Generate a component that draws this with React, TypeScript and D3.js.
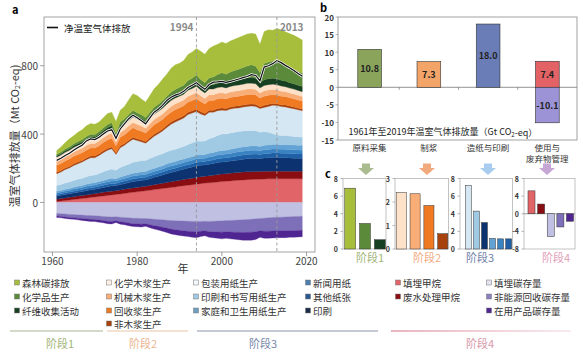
import React from "react";
import * as d3 from "d3";

// ---------------- DATA ----------------
const years = d3.range(1961, 2020);

// Panel a – stage 1 (Mt CO2-eq)
const forest = [22,30,37,46,47,54,57,62,63,60, 55,59,64,61,67,70,73,86,98,100, 92,91,97,108,115,127,129,141,144,141, 144,152,153,155,165,167,171,181,176,179, 180,182,183,185,186,187,184,188,166,187, 188,181,189,195,193,197,199,198,192];
const chemicals = [9,10,11,12,12,13,14,15,15,15, 16,17,18,19,16,19,20,21,23,22, 21,20,22,24,25,26,27,28,29,30, 31,34,36,40,38,36,40,45,50,55, 52,55,58,62,65,68,75,70,60,95, 98,100,105,100,95,90,85,82,80];
const fiber = [8,8,9,9,10,10,10,11,11,11, 12,12,13,13,12,13,14,14,15,15, 15,14,15,16,17,18,19,20,21,22, 22,23,24,25,24,23,25,26,27,28, 28,29,30,31,32,33,33,33,30,34, 35,35,35,34,33,32,31,30,30];
// stage 2
const chemPulp = [24,25,25,26,26,26,27,27,28,27, 28,28,30,30,24,29,30,31,32,31, 30,29,31,32,32,33,34,34,34,34, 34,35,36,37,34,33,34,33,33,34, 33,33,33,33,33,33,33,33,29,31, 31,31,30,30,28,28,28,28,28];
const mechPulp = [24,24,25,25,25,26,26,27,27,27, 27,28,29,29,24,28,29,31,31,31, 30,28,30,31,32,32,33,34,34,34, 34,34,35,36,34,32,33,33,33,33, 32,32,32,33,33,33,33,32,30,31, 31,30,30,29,29,28,28,28,27];
const recycledPulp = [40,41,42,43,44,45,45,46,47,46, 47,49,50,51,41,50,51,53,55,53, 51,49,52,55,55,56,57,58,59,59, 58,60,60,62,59,55,58,57,57,57, 55,56,56,56,56,57,56,55,51,54, 53,52,51,50,50,49,48,47,47];
const nonWoodPulp = [9,9,9,9,10,10,10,10,10,10, 10,11,11,11,9,11,11,11,12,11, 11,10,11,12,12,12,12,13,13,13, 13,13,13,13,13,12,12,12,12,12, 12,12,12,12,12,12,12,12,11,12, 12,11,11,11,11,11,11,10,10];
// stage 3
const packaging = [69,73,78,82,87,91,95,100,104,102, 106,112,117,118,93,115,120,129,135,122, 110,102,110,120,125,133,142,152,160,162, 166,175,175,172,160,150,155,148,145,140, 138,140,140,138,140,142,143,142,138,142, 152,165,172,170,168,165,162,158,154];
const printWriting = [34,35,37,38,40,41,42,44,45,45, 47,50,53,55,50,56,58,61,64,66, 66,64,66,68,69,70,71,72,72,72, 74,77,80,82,80,79,84,88,92,96, 94,95,95,94,93,92,90,88,84,80, 74,64,55,53,52,51,50,49,48];
const household = [9,9,10,10,11,11,12,12,13,13, 13,14,14,15,13,15,16,16,17,17, 17,17,18,18,19,19,20,20,20,21, 21,21,21,22,21,21,22,22,23,23, 23,24,24,25,25,25,26,26,25,26, 26,27,27,27,28,28,28,28,28];
const newsprint = [10,10,11,11,12,12,12,13,13,13, 14,14,15,15,14,15,15,16,16,16, 16,16,17,17,18,18,19,19,19,19, 19,20,20,21,20,20,21,21,22,22, 22,22,23,23,23,23,23,23,22,23, 23,23,23,23,23,23,23,23,23];
const otherPaper = [9,9,10,10,11,11,11,12,12,12, 13,13,14,14,13,14,15,15,16,16, 16,16,17,17,18,18,19,19,19,20, 20,20,20,21,20,20,21,21,22,23, 23,23,24,24,24,25,25,25,24,25, 25,26,26,26,26,26,26,26,26];
const printing = [18,19,20,21,22,23,24,25,26,26, 27,29,30,31,29,32,33,35,37,37, 38,37,40,43,45,48,51,54,56,58, 60,63,65,68,67,66,68,69,70,70, 70,71,72,74,75,76,77,77,75,78, 79,80,80,79,79,77,76,75,74];
// stage 4
const landfillCH4 = [5,8,11,14,17,20,23,26,29,32, 35,38,41,44,47,50,53,56,59,62, 65,68,71,75,78,81,85,88,91,95, 98,101,104,107,110,113,115,117,120,122, 124,126,128,130,132,133,134,135,136,137, 138,138,139,139,139,139,139,139,139];
const wastewaterCH4 = [14,15,15,16,16,17,17,18,19,19, 20,21,21,22,22,23,24,25,26,26, 27,27,28,29,30,31,32,33,34,35, 36,37,38,39,40,40,41,42,43,44, 44,45,45,45,46,46,46,46,45,45, 45,45,45,44,44,44,44,44,44];
const landfillStock = [-64,-66,-68,-70,-71,-73,-74,-76,-77,-78, -80,-82,-84,-85,-84,-86,-88,-90,-92,-93, -94,-94,-96,-98,-100,-102,-104,-106,-107,-108, -109,-110,-111,-112,-111,-110,-111,-110,-109,-108, -106,-105,-104,-103,-102,-100,-98,-96,-94,-92, -90,-88,-87,-86,-85,-84,-83,-82,-81];
const nonEnergyStock = [-16,-16,-17,-18,-18,-19,-20,-21,-22,-22, -23,-24,-26,-27,-23,-27,-28,-30,-32,-32, -33,-31,-34,-38,-40,-43,-46,-50,-53,-55, -57,-58,-59,-60,-58,-56,-60,-62,-64,-66, -66,-68,-70,-72,-74,-75,-76,-76,-72,-76, -78,-79,-80,-80,-81,-81,-82,-82,-82];
const inUseStock = [-8,-8,-9,-9,-10,-10,-11,-11,-12,-12, -13,-13,-14,-14,-11,-14,-15,-16,-17,-17, -17,-15,-18,-20,-22,-24,-26,-28,-29,-30, -31,-32,-33,-34,-31,-29,-33,-35,-37,-39, -38,-40,-42,-43,-45,-46,-47,-45,-38,-42, -42,-41,-40,-40,-40,-39,-39,-38,-38];
const netEmissions = [246,258,275,288,305,322,335,360,372,368, 382,400,418,425,375,430,460,490,510,495, 478,460,495,528,545,568,597,615,628,636, 650,672,686,700,680,662,690,704,705,708, 702,708,715,722,730,737,748,743,712,792, 800,812,830,818,802,788,772,755,738];

const aYTicks = [0, 400, 800];
const aXTicks = [1960, 1980, 2000, 2020];
const markerYears = [1994, 2013];

// Panel b
const bCategories = ["原料采集", "制浆", "造纸与印刷", "使用与废弃物管理"];
const bCategoryLines = [["原料采集"], ["制浆"], ["造纸与印刷"], ["使用与", "废弃物管理"]];
const bPositive = [10.8, 7.3, 18.0, 7.4];
const bNegative = [0, 0, 0, -10.1];
const bTicks = [20, 15, 10, 5, 0, -5, -10, -15];

// Panel c
const c1Values = [6.9, 2.9, 1.05];
const c2Values = [2.4, 2.35, 1.85, 0.65];
const c3Values = [7.2, 4.3, 3.0, 1.2, 1.15, 1.15];
const c4Values = [5.2, 2.2, -5.2, -3.0, -1.7];
const c1Ticks = [0, 2, 4, 6, 8];
const c2Ticks = [0, 1, 2, 3];
const c3Ticks = [0, 2, 4, 6, 8];
const c4Ticks = [-8, -4, 0, 4, 8];
const stageNames = ["阶段1", "阶段2", "阶段3", "阶段4"];

// Legend
const legendCol1 = ["森林碳排放", "化学品生产", "纤维收集活动"];
const legendCol2 = ["化学木浆生产", "机械木浆生产", "回收浆生产", "非木浆生产"];
const legendCol3 = ["包装用纸生产", "印刷和书写用纸生产", "家庭和卫生用纸生产"];
const legendCol4 = ["新闻用纸", "其他纸张", "印刷"];
const legendCol5 = ["填埋甲烷", "废水处理甲烷"];
const legendCol6 = ["填埋碳存量", "非能源回收碳存量", "在用产品碳存量"];

// ---------------- STYLE ----------------
const FONT = '"Noto Sans CJK SC", "Noto Sans", sans-serif';
const C = {
  forest: "#a6be3c", chemicals: "#5b8a3a", fiber: "#173f22",
  chemPulp: "#fde1c8", mechPulp: "#f9ae78", recycled: "#f07a22", nonWood: "#a8420c",
  packaging: "#d5e7f3", printWriting: "#a0c9e3", household: "#62a2d4", newsprint: "#3a83c3", otherPaper: "#1f5fa6", printing: "#0c3370",
  landfillCH4: "#e06468", wastewater: "#8a0d12",
  landfillStock: "#bfc0e2", nonEnergy: "#7e70b8", inUse: "#4f2591",
};

const layers = [
  { key: "landfillCH4", values: landfillCH4, color: C.landfillCH4 },
  { key: "wastewaterCH4", values: wastewaterCH4, color: C.wastewater },
  { key: "printing", values: printing, color: C.printing },
  { key: "otherPaper", values: otherPaper, color: C.otherPaper },
  { key: "newsprint", values: newsprint, color: C.newsprint },
  { key: "household", values: household, color: C.household },
  { key: "printWriting", values: printWriting, color: C.printWriting },
  { key: "packaging", values: packaging, color: C.packaging },
  { key: "nonWood", values: nonWoodPulp, color: C.nonWood },
  { key: "recycled", values: recycledPulp, color: C.recycled },
  { key: "mechanical", values: mechPulp, color: C.mechPulp },
  { key: "chemPulp", values: chemPulp, color: C.chemPulp },
  { key: "fiber", values: fiber, color: C.fiber },
  { key: "chemicals", values: chemicals, color: C.chemicals },
  { key: "forest", values: forest, color: C.forest },
  { key: "landfillStock", values: landfillStock, color: C.landfillStock },
  { key: "nonEnergyStock", values: nonEnergyStock, color: C.nonEnergy },
  { key: "inUseStock", values: inUseStock, color: C.inUse },
];

function SubBars({ x0, x1, bx0, bx1, yTop, yBot, domain, ticks, values, colors }) {
  const y = d3.scaleLinear().domain(domain).range([yBot, yTop]);
  const xb = d3.scaleBand().domain(values.map((_, i) => String(i))).range([bx0, bx1]).paddingInner(0.27).paddingOuter(0.05);
  return (
    <g>
      <rect x={x0} y={yTop} width={x1 - x0} height={yBot - yTop} fill="none" stroke="#b5b5b5" strokeWidth={0.8} />
      {ticks.map((t) => (
        <g key={t}>
          <line x1={x0 - 2.5} x2={x0} y1={y(t)} y2={y(t)} stroke="#888" strokeWidth={0.6} />
          <text x={x0 - 5} y={y(t)} fontSize={7} fontWeight={700} fill="#333" textAnchor="end" dominantBaseline="central" fontFamily={FONT}>{t}</text>
        </g>
      ))}
      {domain[0] < 0 && <line x1={x0} x2={x1} y1={y(0)} y2={y(0)} stroke="#777" strokeWidth={0.7} />}
      {values.map((v, i) => (
        <rect key={i} x={xb(String(i))} width={xb.bandwidth()} y={Math.min(y(v), y(0))} height={Math.abs(y(v) - y(0))} fill={colors[i]} stroke="#333" strokeWidth={0.5} />
      ))}
    </g>
  );
}

function Arrow({ cx, color }) {
  const p = `M${cx - 4},163.5 L${cx + 4},163.5 L${cx + 4},168 L${cx + 8},168 L${cx},175 L${cx - 8},168 L${cx - 4},168 Z`;
  return <path d={p} fill={color} />;
}

function LegendCol({ x, items, colors }) {
  const rowsY = [282.5, 296.5, 310.5, 323.5];
  return (
    <g>
      {items.map((t, i) => (
        <g key={t}>
          <rect x={x} y={rowsY[i] - 2.5} width={5} height={5} fill={colors[i]} stroke="#777" strokeWidth={0.5} />
          <text x={x + 7.5} y={rowsY[i]} fontSize={9.5} fill="#333" dominantBaseline="central" fontFamily={FONT}>{t}</text>
        </g>
      ))}
    </g>
  );
}

export default function App() {
  const W = 583, H = 357;
  // ---- Panel a scales
  const xA = d3.scaleLinear().domain([1958, 2022]).range([44, 315]);
  const yA = d3.scaleLinear().domain([-290, 1085]).range([252, 17]);
  const rows = years.map((yr, i) => {
    const r: any = { year: yr };
    layers.forEach((l) => (r[l.key] = l.values[i]));
    return r;
  });
  const series = d3.stack().keys(layers.map((l) => l.key)).offset(d3.stackOffsetDiverging)(rows);
  const area = d3.area<any>().x((d) => xA(d.data.year)).y0((d) => yA(d[0])).y1((d) => yA(d[1]));
  const netLine = d3.line<number>().x((_, i) => xA(years[i])).y((d) => yA(d));

  // ---- Panel b scales
  const xB = d3.scaleBand().domain(bCategories).range([340, 577]);
  const yB = d3.scaleLinear().domain([-15, 20]).range([140, 17]);
  const bw = xB.bandwidth() * 0.4;
  const bColors = ["#8ba45c", "#f3a468", "#6a7db6", "#e36265"];

  return (
    <svg width={W} height={H} style={{ position: "absolute", left: 0, top: 0, background: "#fff" }} fontFamily={FONT}>
      <defs>
        <linearGradient id="st4" x1="0" x2="1" y1="0" y2="0">
          <stop offset="0" stopColor="#d98595" />
          <stop offset="1" stopColor="#f4dde3" />
        </linearGradient>
      </defs>
      {/* ---------- Panel a ---------- */}
      <text x={12} y={9} fontSize={11} fontWeight={700} dominantBaseline="central">a</text>
      {series.map((s, i) => (
        <path key={s.key} d={area(s) || ""} fill={layers[i].color} stroke={layers[i].color} strokeWidth={0.3} />
      ))}
      <path d={netLine(netEmissions) || ""} fill="none" stroke="#fff" strokeWidth={2.6} />
      <path d={netLine(netEmissions) || ""} fill="none" stroke="#111" strokeWidth={1.2} />
      {markerYears.map((yr) => (
        <line key={yr} x1={xA(yr)} x2={xA(yr)} y1={17} y2={252} stroke="#9a9a9a" strokeWidth={0.9} strokeDasharray="3,2.5" />
      ))}
      <text x={xA(1994) - 3} y={26} fontSize={10} fontWeight={700} fill="#8a8a8a" textAnchor="end" dominantBaseline="central">1994</text>
      <text x={xA(2013) + 3} y={26} fontSize={10} fontWeight={700} fill="#8a8a8a" dominantBaseline="central">2013</text>
      <rect x={44} y={17} width={271} height={235} fill="none" stroke="#9a9a9a" strokeWidth={0.9} />
      {aYTicks.map((t) => (
        <g key={t}>
          <line x1={40} x2={44} y1={yA(t)} y2={yA(t)} stroke="#888" strokeWidth={0.8} />
          <text x={38} y={yA(t)} fontSize={10} fill="#444" textAnchor="end" dominantBaseline="central">{t}</text>
        </g>
      ))}
      {aXTicks.map((t) => (
        <g key={t}>
          <line x1={xA(t)} x2={xA(t)} y1={252} y2={256} stroke="#888" strokeWidth={0.8} />
          <text x={xA(t)} y={260} fontSize={10} fill="#444" textAnchor="middle" dominantBaseline="central">{t}</text>
        </g>
      ))}
      <text x={183} y={268} fontSize={11} fill="#333" textAnchor="middle" dominantBaseline="central">年</text>
      <text transform="translate(14,136) rotate(-90)" fontSize={11} fill="#333" textAnchor="middle" dominantBaseline="central">
        温室气体排放量（Mt CO<tspan fontSize={7} dy={3}>2</tspan><tspan dy={-3}>-eq)</tspan>
      </text>
      <line x1={47} x2={58} y1={27.5} y2={27.5} stroke="#111" strokeWidth={1.6} />
      <text x={64} y={27.5} fontSize={9.5} fill="#222" dominantBaseline="central">净温室气体排放</text>

      {/* ---------- Panel b ---------- */}
      <text x={320} y={7} fontSize={11} fontWeight={700} dominantBaseline="central">b</text>
      <rect x={338} y={17} width={239} height={123} fill="none" stroke="#8a8a8a" strokeWidth={0.8} />
      {bTicks.map((t) => (
        <g key={t}>
          <line x1={335.5} x2={338} y1={yB(t)} y2={yB(t)} stroke="#888" strokeWidth={0.6} />
          <text x={334} y={yB(t)} fontSize={8} fontWeight={700} fill="#333" textAnchor="end" dominantBaseline="central">{t}</text>
        </g>
      ))}
      <line x1={338} x2={577} y1={yB(0)} y2={yB(0)} stroke="#777" strokeWidth={0.8} />
      {bCategories.slice(1).map((c) => (
        <line key={c} x1={xB(c)} x2={xB(c)} y1={yB(0)} y2={yB(0) + 2.5} stroke="#777" strokeWidth={0.7} />
      ))}
      {bCategories.map((c, i) => {
        const cx = (xB(c) as number) + xB.bandwidth() / 2;
        return (
          <g key={c}>
            <rect x={cx - bw / 2} width={bw} y={yB(bPositive[i])} height={yB(0) - yB(bPositive[i])} fill={bColors[i]} stroke="#333" strokeWidth={0.6} />
            <text x={cx} y={(yB(bPositive[i]) + yB(0)) / 2} fontSize={9} fontWeight={700} fill="#222" textAnchor="middle" dominantBaseline="central">{bPositive[i].toFixed(1)}</text>
            {bNegative[i] < 0 && (
              <g>
                <rect x={cx - bw / 2} width={bw} y={yB(0)} height={yB(bNegative[i]) - yB(0)} fill="#9c92d6" stroke="#333" strokeWidth={0.6} />
                <text x={cx} y={(yB(bNegative[i]) + yB(0)) / 2} fontSize={9} fontWeight={700} fill="#222" textAnchor="middle" dominantBaseline="central">{bNegative[i].toFixed(1)}</text>
              </g>
            )}
            {bCategoryLines[i].map((ln, j) => (
              <text key={ln} x={cx} y={146.5 + j * 11.5} fontSize={8.5} fill="#333" textAnchor="middle" dominantBaseline="central">{ln}</text>
            ))}
          </g>
        );
      })}
      <text x={443} y={131.5} fontSize={9} fill="#222" textAnchor="middle" dominantBaseline="central">
        1961年至2019年温室气体排放量（Gt CO<tspan fontSize={6} dy={2}>2</tspan><tspan dy={-2}>-eq）</tspan>
      </text>

      {/* ---------- Panel c ---------- */}
      <text x={325} y={173} fontSize={11} fontWeight={700} dominantBaseline="central">c</text>
      <Arrow cx={366} color="#a9bb8f" />
      <Arrow cx={427} color="#f2a97c" />
      <Arrow cx={488} color="#a9cdee" />
      <Arrow cx={547} color="#c6a6d3" />
      <SubBars x0={343} x1={386} bx0={344} bx1={386} yTop={178.5} yBot={249} domain={[0, 8]} ticks={c1Ticks} values={c1Values} colors={[C.forest, C.chemicals, C.fiber]} />
      <SubBars x0={395} x1={448.5} bx0={395.5} bx1={448.5} yTop={178.5} yBot={249} domain={[0, 3]} ticks={c2Ticks} values={c2Values} colors={[C.chemPulp, C.mechPulp, C.recycled, C.nonWood]} />
      <SubBars x0={460} x1={512.5} bx0={465} bx1={512} yTop={178.5} yBot={249} domain={[0, 8]} ticks={c3Ticks} values={c3Values} colors={[C.packaging, C.printWriting, C.printing, C.household, C.newsprint, C.otherPaper]} />
      <SubBars x0={524} x1={575} bx0={527.5} bx1={574} yTop={178.5} yBot={249} domain={[-8, 8]} ticks={c4Ticks} values={c4Values} colors={[C.landfillCH4, C.wastewater, C.landfillStock, C.nonEnergy, C.inUse]} />
      <text x={370} y={257} fontSize={11} fill="#a3b57a" textAnchor="middle" dominantBaseline="central">{stageNames[0]}</text>
      <text x={427} y={257} fontSize={11} fill="#f2ab80" textAnchor="middle" dominantBaseline="central">{stageNames[1]}</text>
      <text x={480} y={257} fontSize={11} fill="#7282a8" textAnchor="middle" dominantBaseline="central">{stageNames[2]}</text>
      <text x={556} y={257} fontSize={11} fill="#e3a0b8" textAnchor="middle" dominantBaseline="central">{stageNames[3]}</text>

      {/* ---------- Legend ---------- */}
      <LegendCol x={14.5} items={legendCol1} colors={[C.forest, C.chemicals, C.fiber]} />
      <LegendCol x={106.5} items={legendCol2} colors={["#fdf0e4", C.mechPulp, C.recycled, C.nonWood]} />
      <LegendCol x={193.5} items={legendCol3} colors={["#f3f8fc", C.printWriting, "#6f9ec0"]} />
      <LegendCol x={305.5} items={legendCol4} colors={["#4a7fb0", "#2b5791", "#1c2b48"]} />
      <LegendCol x={395.5} items={legendCol5} colors={[C.landfillCH4, C.wastewater]} />
      <LegendCol x={486.5} items={legendCol6} colors={["#e2e2f0", "#8a80c0", C.inUse]} />
      <line x1={10} x2={103} y1={331} y2={331} stroke="#a9b596" strokeWidth={1.2} />
      <line x1={107} x2={188} y1={331} y2={331} stroke="#e9c3a5" strokeWidth={1.2} />
      <line x1={197} x2={378} y1={331} y2={331} stroke="#8795ab" strokeWidth={1.2} />
      <rect x={391} y={330.4} width={180} height={1.2} fill="url(#st4)" />
      <text x={60} y={343} fontSize={11} fill="#a3b57a" textAnchor="middle" dominantBaseline="central">{stageNames[0]}</text>
      <text x={143} y={343} fontSize={11} fill="#ebb48e" textAnchor="middle" dominantBaseline="central">{stageNames[1]}</text>
      <text x={263} y={343} fontSize={11} fill="#7888a8" textAnchor="middle" dominantBaseline="central">{stageNames[2]}</text>
      <text x={480} y={343} fontSize={11} fill="#d898a8" textAnchor="middle" dominantBaseline="central">{stageNames[3]}</text>
    </svg>
  );
}
